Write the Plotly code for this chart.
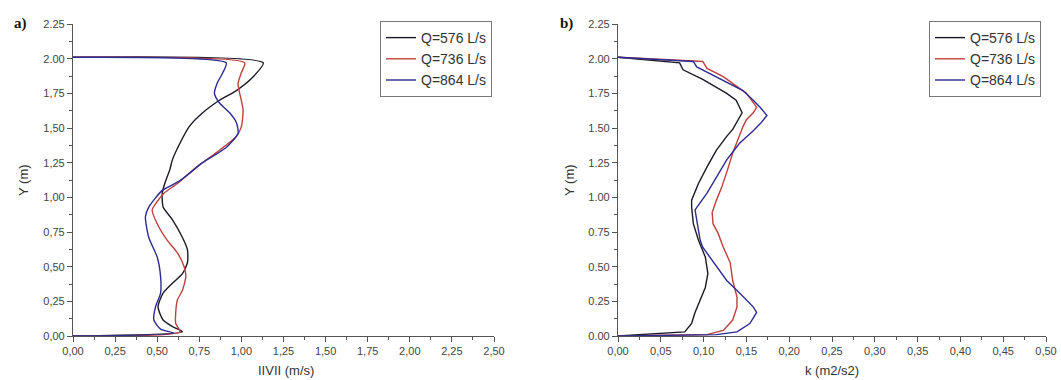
import plotly.graph_objects as go

# ---------------- data: panel a) |V| (m/s) vs Y (m) ----------------
series_names = ["Q=576 L/s", "Q=736 L/s", "Q=864 L/s"]

a_y_576 = [2.01, 1.97, 1.87, 1.77, 1.70, 1.61, 1.51, 1.39, 1.27, 1.20, 1.10, 1.03, 0.93, 0.84,
           0.71, 0.62, 0.53, 0.45, 0.38, 0.31, 0.21, 0.115, 0.065, 0.03, 0.00]
a_v_576 = [0.00, 1.13, 1.07, 0.97, 0.87, 0.77, 0.69, 0.635, 0.59, 0.575, 0.545, 0.53, 0.535, 0.59,
           0.65, 0.68, 0.68, 0.65, 0.59, 0.535, 0.505, 0.535, 0.595, 0.65, 0.00]

a_y_736 = [2.01, 1.97, 1.90, 1.82, 1.75, 1.63, 1.51, 1.44, 1.34, 1.22, 1.10, 1.03, 0.97, 0.91,
           0.81, 0.69, 0.60, 0.50, 0.43, 0.33, 0.26, 0.17, 0.09, 0.03, 0.00]
a_v_736 = [0.00, 1.02, 1.00, 0.98, 0.99, 1.01, 1.00, 0.97, 0.87, 0.735, 0.62, 0.54, 0.50, 0.47,
           0.50, 0.56, 0.62, 0.66, 0.67, 0.65, 0.62, 0.61, 0.61, 0.635, 0.00]

a_y_864 = [2.01, 1.97, 1.90, 1.82, 1.75, 1.68, 1.61, 1.54, 1.46, 1.36, 1.25, 1.12, 1.05, 0.93,
           0.86, 0.71, 0.57, 0.43, 0.31, 0.21, 0.115, 0.05, 0.02, 0.00]
a_v_864 = [0.00, 0.91, 0.89, 0.855, 0.84, 0.87, 0.93, 0.97, 0.98, 0.91, 0.77, 0.635, 0.53, 0.45,
           0.43, 0.45, 0.50, 0.52, 0.52, 0.49, 0.48, 0.52, 0.60, 0.00]

# ---------------- data: panel b) k (m2/s2) vs Y (m) ----------------
b_y_576 = [2.01, 1.97, 1.92, 1.85, 1.75, 1.70, 1.61, 1.56, 1.49, 1.44, 1.34, 1.22, 1.10, 0.98,
           0.93, 0.81, 0.69, 0.57, 0.45, 0.35, 0.26, 0.17, 0.09, 0.03, 0.00]
b_k_576 = [0.000, 0.072, 0.076, 0.099, 0.127, 0.138, 0.145, 0.140, 0.134, 0.127, 0.115, 0.104, 0.094, 0.086,
           0.086, 0.088, 0.094, 0.102, 0.105, 0.102, 0.096, 0.090, 0.086, 0.078, 0.000]

b_y_736 = [2.01, 1.98, 1.93, 1.87, 1.75, 1.65, 1.61, 1.56, 1.51, 1.41, 1.32, 1.20, 1.07, 0.98,
           0.89, 0.81, 0.74, 0.64, 0.53, 0.40, 0.28, 0.21, 0.115, 0.04, 0.01, 0.00]
b_k_736 = [0.000, 0.099, 0.104, 0.123, 0.150, 0.162, 0.158, 0.150, 0.146, 0.140, 0.134, 0.128, 0.121, 0.115,
           0.110, 0.111, 0.117, 0.123, 0.131, 0.134, 0.139, 0.139, 0.134, 0.123, 0.104, 0.000]

b_y_864 = [2.01, 1.98, 1.94, 1.87, 1.77, 1.70, 1.65, 1.59, 1.53, 1.48, 1.39, 1.27, 1.15, 1.03,
           0.91, 0.80, 0.69, 0.64, 0.50, 0.40, 0.31, 0.21, 0.17, 0.09, 0.03, 0.01, 0.00]
b_k_864 = [0.000, 0.088, 0.092, 0.115, 0.146, 0.158, 0.166, 0.174, 0.166, 0.158, 0.142, 0.127, 0.115, 0.104,
           0.090, 0.093, 0.096, 0.099, 0.115, 0.127, 0.142, 0.158, 0.162, 0.154, 0.139, 0.115, 0.000]

# ---------------- tick labels ----------------
y_tickvals = [0, 0.25, 0.5, 0.75, 1.0, 1.25, 1.5, 1.75, 2.0, 2.25]
a_y_ticktext = ["0,00", "0,25", "0,50", "0,75", "1,00", "1,25", "1,50", "1,75", "2.00", "2.25"]
b_y_ticktext = ["0.00", "0.25", "0.50", "0.75", "1.00", "1.25", "1.50", "1.75", "2.00", "2.25"]
a_x_tickvals = [0, 0.25, 0.5, 0.75, 1.0, 1.25, 1.5, 1.75, 2.0, 2.25, 2.5]
a_x_ticktext = ["0,00", "0,25", "0,50", "0,75", "1,00", "1,25", "1,50", "1,75", "2,00", "2,25", "2,50"]
b_x_tickvals = [0, 0.05, 0.1, 0.15, 0.2, 0.25, 0.3, 0.35, 0.4, 0.45, 0.5]
b_x_ticktext = ["0,00", "0,05", "0,10", "0,15", "0,20", "0,25", "0,30", "0,35", "0,40", "0,45", "0,50"]

colors = ["#1a1a26", "#c0403c", "#2c2c92"]

W, H = 1061, 380
def px_x(p):
    return p / W
def px_y(p):
    return 1 - p / H

fig = go.Figure()

a_sets = [(a_v_576, a_y_576), (a_v_736, a_y_736), (a_v_864, a_y_864)]
b_sets = [(b_k_576, b_y_576), (b_k_736, b_y_736), (b_k_864, b_y_864)]

for (xv, yv), name, c in zip(a_sets, series_names, colors):
    fig.add_trace(go.Scatter(x=xv, y=yv, mode="lines", name=name,
                             line=dict(color=c, width=1.4, shape="spline", smoothing=0.6),
                             xaxis="x", yaxis="y", legend="legend"))
for (xv, yv), name, c in zip(b_sets, series_names, colors):
    fig.add_trace(go.Scatter(x=xv, y=yv, mode="lines", name=name,
                             line=dict(color=c, width=1.4),
                             xaxis="x2", yaxis="y2", legend="legend2"))

axis_common = dict(showline=True, linecolor="#555555", linewidth=1.2, ticks="outside",
                   ticklen=5, tickcolor="#555555", tickwidth=1, showgrid=False, zeroline=False,
                   tickfont=dict(family="Arial, Liberation Sans, sans-serif", size=11, color="#444444"),
                   tickmode="array", automargin=False)

y_dom = [px_y(336), px_y(24)]
legend_font = dict(family="Arial, Liberation Sans, sans-serif", size=14, color="#333333")

fig.update_layout(
    width=W, height=H,
    margin=dict(l=0, r=0, t=0, b=0),
    paper_bgcolor="white", plot_bgcolor="white",
    showlegend=True,
    xaxis=dict(domain=[px_x(73), px_x(494)], range=[0, 2.5], anchor="y",
               tickvals=a_x_tickvals, ticktext=a_x_ticktext,
               minor=dict(ticks="outside", ticklen=3, dtick=0.125, tick0=0, tickcolor="#555555"),
               **axis_common),
    yaxis=dict(domain=y_dom, range=[0, 2.25], anchor="x",
               tickvals=y_tickvals, ticktext=a_y_ticktext,
               minor=dict(ticks="outside", ticklen=3, dtick=0.125, tick0=0, tickcolor="#555555"),
               **axis_common),
    xaxis2=dict(domain=[px_x(618), px_x(1046)], range=[0, 0.5], anchor="y2",
                tickvals=b_x_tickvals, ticktext=b_x_ticktext,
                minor=dict(ticks="outside", ticklen=3, dtick=0.025, tick0=0, tickcolor="#555555"),
                **axis_common),
    yaxis2=dict(domain=y_dom, range=[0, 2.25], anchor="x2",
                tickvals=y_tickvals, ticktext=b_y_ticktext,
                minor=dict(ticks="outside", ticklen=3, dtick=0.125, tick0=0, tickcolor="#555555"),
                **axis_common),
    legend=dict(x=px_x(380), y=px_y(21), xanchor="left", yanchor="top",
                bordercolor="#777777", borderwidth=1, bgcolor="white",
                font=legend_font, tracegroupgap=0, itemwidth=30),
    legend2=dict(x=px_x(929), y=px_y(21), xanchor="left", yanchor="top",
                 bordercolor="#777777", borderwidth=1, bgcolor="white",
                 font=legend_font, tracegroupgap=0, itemwidth=30),
)

title_font = dict(family="Arial, Liberation Sans, sans-serif", size=13, color="#333333")
fig.add_annotation(text="IIVII (m/s)", x=px_x(286), y=px_y(370), xref="paper", yref="paper",
                   showarrow=False, font=title_font, xanchor="center", yanchor="middle")
fig.add_annotation(text="k (m2/s2)", x=px_x(832), y=px_y(370), xref="paper", yref="paper",
                   showarrow=False, font=title_font, xanchor="center", yanchor="middle")
fig.add_annotation(text="Y (m)", x=px_x(24), y=px_y(180), xref="paper", yref="paper",
                   showarrow=False, font=title_font, textangle=-90, xanchor="center", yanchor="middle")
fig.add_annotation(text="Y (m)", x=px_x(570), y=px_y(180), xref="paper", yref="paper",
                   showarrow=False, font=title_font, textangle=-90, xanchor="center", yanchor="middle")
panel_font = dict(family="Liberation Serif, DejaVu Serif, serif", size=15, color="#111111")
fig.add_annotation(text="<b>a)</b>", x=px_x(20), y=px_y(24), xref="paper", yref="paper",
                   showarrow=False, font=panel_font, xanchor="center", yanchor="middle")
fig.add_annotation(text="<b>b)</b>", x=px_x(566), y=px_y(24), xref="paper", yref="paper",
                   showarrow=False, font=panel_font, xanchor="center", yanchor="middle")

fig.write_html("out.html", config={"displayModeBar": False},
               post_script="document.body.style.margin='0';document.body.style.overflow='hidden';")
